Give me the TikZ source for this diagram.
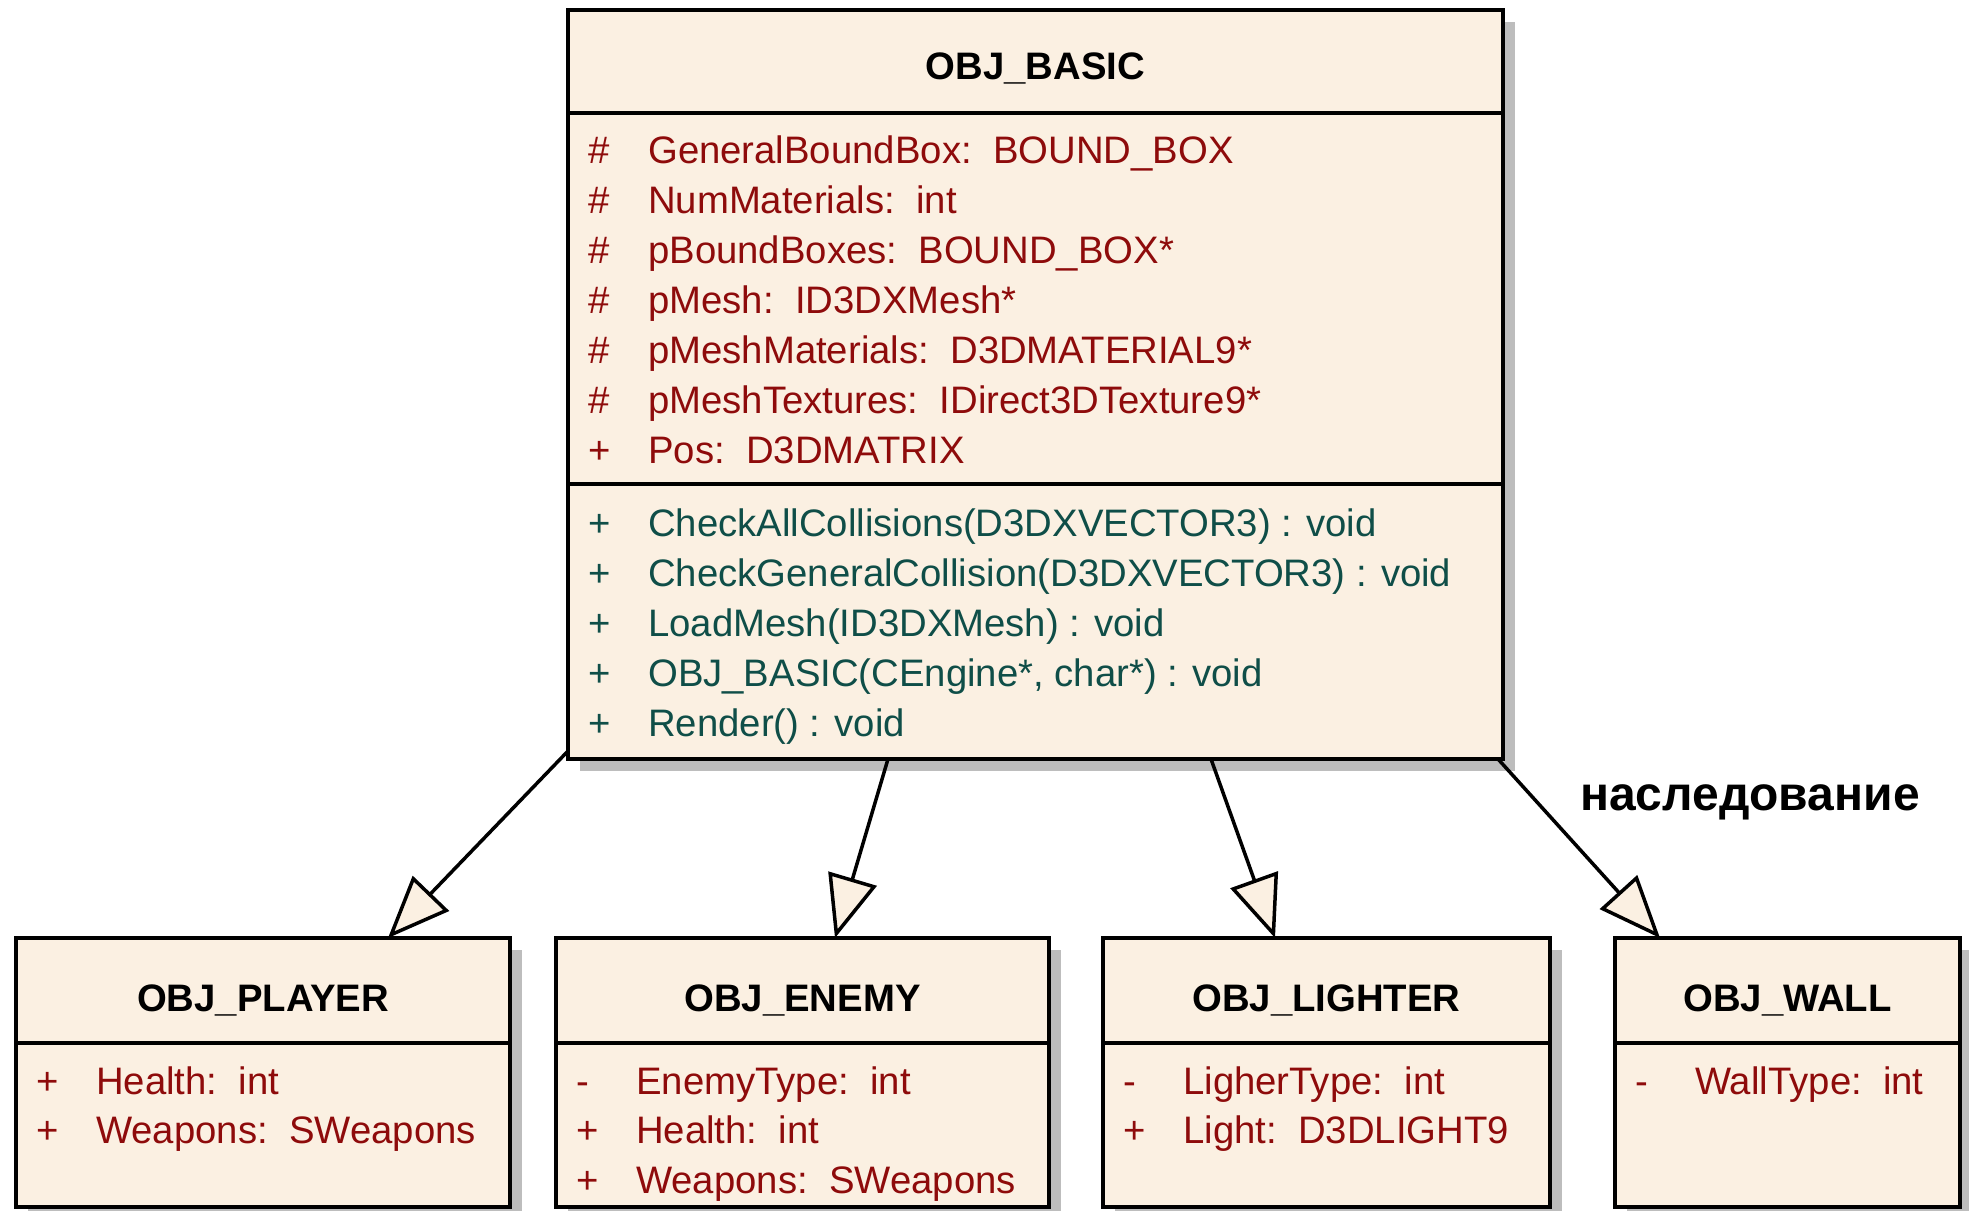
\documentclass[tikz,border=0pt]{standalone}
\usepackage{fontspec}
\setmainfont{Liberation Sans}
\usetikzlibrary{arrows.meta,calc,shadows}
\definecolor{boxfill}{HTML}{FBF0E2}
\definecolor{attrred}{HTML}{8E0B0B}
\definecolor{methteal}{HTML}{0F4E48}
\definecolor{shadowgray}{HTML}{BDBDBD}
\tikzset{
  classbox/.style={draw=black, line width=4pt, fill=boxfill, rectangle, inner sep=0pt, outer sep=0pt, anchor=north west,
    drop shadow={shadow xshift=12pt, shadow yshift=-12pt, fill=shadowgray, opacity=1}},
  sepline/.style={line width=4pt},
  titletxt/.style={font=\fontsize{38.3}{46}\selectfont\bfseries, text=black, inner sep=0pt, anchor=base},
  attrrow/.style={font=\fontsize{38.3}{46}\selectfont, text=attrred, inner sep=0pt, anchor=base west},
  methrow/.style={font=\fontsize{38.3}{46}\selectfont, text=methteal, inner sep=0pt, anchor=base west},
  inherit/.style={line width=3.5pt, -{Triangle[length=62pt, width=50pt, fill=boxfill, line join=miter]}},
  notetxt/.style={font=\fontsize{48}{56}\selectfont\bfseries, text=black, inner sep=0pt, anchor=base},
}
% #1 style, #2 name, #3 x of symbol, #4 baseline y, #5 symbol, #6 text
\newcommand\umlrow[6]{%
  \node[#1] (#2s) at (#3,#4) {#5};
  \node[#1] (#2t) at (#3+60,#4) {#6};}
\begin{document}
\begin{tikzpicture}[x=1pt,y=-1pt]
\useasboundingbox (0,0) rectangle (1969,1210);

% ---------- OBJ_BASIC ----------
\node[classbox, minimum width=935pt, minimum height=749pt] (basic) at (568,10) {};
\draw[sepline] ($(basic.north west)+(0,103)$) -- ($(basic.north east)+(0,103)$);
\draw[sepline] ($(basic.north west)+(0,474)$) -- ($(basic.north east)+(0,474)$);
\node[titletxt] (basictitle) at (1035.5,79) {OBJ\_BASIC};
\umlrow{attrrow}{ba1}{588}{163}{\#}{GeneralBoundBox:\ \ BOUND\_BOX}
\umlrow{attrrow}{ba2}{588}{213}{\#}{NumMaterials:\ \ int}
\umlrow{attrrow}{ba3}{588}{263}{\#}{pBoundBoxes:\ \ BOUND\_BOX*}
\umlrow{attrrow}{ba4}{588}{313}{\#}{pMesh:\ \ ID3DXMesh*}
\umlrow{attrrow}{ba5}{588}{363}{\#}{pMeshMaterials:\ \ D3DMATERIAL9*}
\umlrow{attrrow}{ba6}{588}{413}{\#}{pMeshTextures:\ \ IDirect3DTexture9*}
\umlrow{attrrow}{ba7}{588}{463}{+}{Pos:\ \ D3DMATRIX}
\umlrow{methrow}{bm1}{588}{536}{+}{CheckAllCollisions(D3DXVECTOR3) : void}
\umlrow{methrow}{bm2}{588}{586}{+}{CheckGeneralCollision(D3DXVECTOR3) : void}
\umlrow{methrow}{bm3}{588}{636}{+}{LoadMesh(ID3DXMesh) : void}
\umlrow{methrow}{bm4}{588}{686}{+}{OBJ\_BASIC(CEngine*, char*) : void}
\umlrow{methrow}{bm5}{588}{736}{+}{Render() : void}

% ---------- OBJ_PLAYER ----------
\node[classbox, minimum width=494pt, minimum height=269pt] (player) at (16,938) {};
\draw[sepline] ($(player.north west)+(0,105)$) -- ($(player.north east)+(0,105)$);
\node[titletxt] (playertitle) at (263,1011) {OBJ\_PLAYER};
\umlrow{attrrow}{pa1}{36}{1094}{+}{Health:\ \ int}
\umlrow{attrrow}{pa2}{36}{1143}{+}{Weapons:\ \ SWeapons}

% ---------- OBJ_ENEMY ----------
\node[classbox, minimum width=493pt, minimum height=269pt] (enemy) at (556,938) {};
\draw[sepline] ($(enemy.north west)+(0,105)$) -- ($(enemy.north east)+(0,105)$);
\node[titletxt] (enemytitle) at (802.5,1011) {OBJ\_ENEMY};
\umlrow{attrrow}{ea1}{576}{1094}{-}{EnemyType:\ \ int}
\umlrow{attrrow}{ea2}{576}{1143}{+}{Health:\ \ int}
\umlrow{attrrow}{ea3}{576}{1193}{+}{Weapons:\ \ SWeapons}

% ---------- OBJ_LIGHTER ----------
\node[classbox, minimum width=447pt, minimum height=269pt] (lighter) at (1103,938) {};
\draw[sepline] ($(lighter.north west)+(0,105)$) -- ($(lighter.north east)+(0,105)$);
\node[titletxt] (lightertitle) at (1326.5,1011) {OBJ\_LIGHTER};
\umlrow{attrrow}{la1}{1123}{1094}{-}{LigherType:\ \ int}
\umlrow{attrrow}{la2}{1123}{1143}{+}{Light:\ \ D3DLIGHT9}

% ---------- OBJ_WALL ----------
\node[classbox, minimum width=345pt, minimum height=269pt] (wall) at (1615,938) {};
\draw[sepline] ($(wall.north west)+(0,105)$) -- ($(wall.north east)+(0,105)$);
\node[titletxt] (walltitle) at (1787.5,1011) {OBJ\_WALL};
\umlrow{attrrow}{wa1}{1635}{1094}{-}{WallType:\ \ int}

% ---------- inheritance ----------
\draw[inherit] ($(basic.south west)+(0,-8)$) -- ($(player.north west)+(372,0)$);
\draw[inherit] ($(basic.south west)+(320,0)$) -- ($(enemy.north west)+(279,0)$);
\draw[inherit] ($(basic.south west)+(643,0)$) -- ($(lighter.north west)+(172,0)$);
\draw[inherit] ($(basic.south east)+(-5,0)$) -- ($(wall.north west)+(45,0)$);
\node[notetxt] (note) at (1750,810) {наследование};
\end{tikzpicture}
\end{document}
